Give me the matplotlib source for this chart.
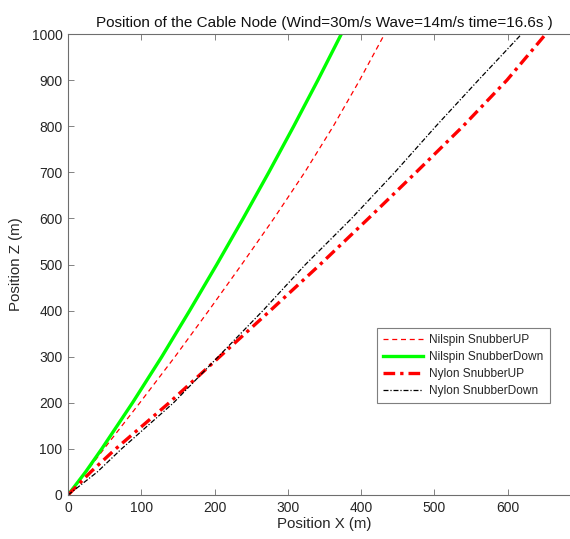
import matplotlib
matplotlib.use("Agg")
import matplotlib.pyplot as plt
import numpy as np

plt.rcParams['font.family'] = ['Liberation Sans', 'DejaVu Sans']

z = [0, 50, 100, 200, 300, 400, 500, 600, 700, 800, 900, 1000]
nilspin_up_x = [0, 25, 49, 98, 146, 192, 237, 281, 323, 362, 398, 432]
nilspin_down_x = [0, 24, 46, 88, 128, 166, 203, 239, 274, 308, 341, 373]
nylon_up_x = [0, 31, 65, 138, 207, 276, 344, 410, 475, 539, 599, 652]
nylon_down_x = [0, 40, 73, 144, 205, 266, 324, 387, 446, 502, 560, 619]

labels = ["Nilspin SnubberUP", "Nilspin SnubberDown", "Nylon SnubberUP", "Nylon SnubberDown"]
title = "Position of the Cable Node (Wind=30m/s Wave=14m/s time=16.6s )"
xtick_vals = [0, 100, 200, 300, 400, 500, 600, 700]
xtick_labels = ["0", "100", "200", "300", "400", "500", "600", ""]

fig = plt.figure(figsize=(5.7, 5.39), dpi=100)
ax = fig.add_axes([68/570, 44/539, 513/570, 461/539])

ax.plot(nilspin_up_x, z, color='red', linestyle=(0, (4, 3)), linewidth=0.9, label=labels[0])
ax.plot(nilspin_down_x, z, color=(0, 1, 0), linestyle='-', linewidth=2.4, label=labels[1])
ax.plot(nylon_up_x, z, color='red', linestyle=(0, (3.5, 1.5, 1, 1.5)), linewidth=2.4, label=labels[2])
ax.plot(nylon_down_x, z, color='black', linestyle=(0, (4, 1.5, 1, 1.5)), linewidth=0.9, label=labels[3])

ax.set_xlim(0, 700)
ax.set_ylim(0, 1000)
ax.set_xticks(xtick_vals)
ax.set_xticklabels(xtick_labels)
ax.set_yticks(np.arange(0, 1001, 100))

axcol = '#6e6e6e'
for s in ax.spines.values():
    s.set_color(axcol)
    s.set_linewidth(0.8)
ax.tick_params(direction='in', top=True, right=True, length=4, width=0.6,
               color=axcol, labelcolor='#262626', labelsize=10, pad=4)

ax.set_title(title, fontsize=11, color='#111111', pad=5)
ax.set_xlabel("Position X (m)", fontsize=10.8, color='#262626', labelpad=2)
ax.set_ylabel("Position Z (m)", fontsize=10.8, color='#262626', labelpad=6)

leg = ax.legend(loc='lower left', bbox_to_anchor=(0.602, 0.20), fontsize=8.6,
                frameon=True, fancybox=False, edgecolor='#7f7f7f', framealpha=1,
                handlelength=3.4, handletextpad=0.5, borderpad=0.5, labelspacing=0.42,
                borderaxespad=0)
leg.get_frame().set_linewidth(0.8)
for t in leg.get_texts():
    t.set_color('#262626')

fig.savefig("out.png", dpi=100)
